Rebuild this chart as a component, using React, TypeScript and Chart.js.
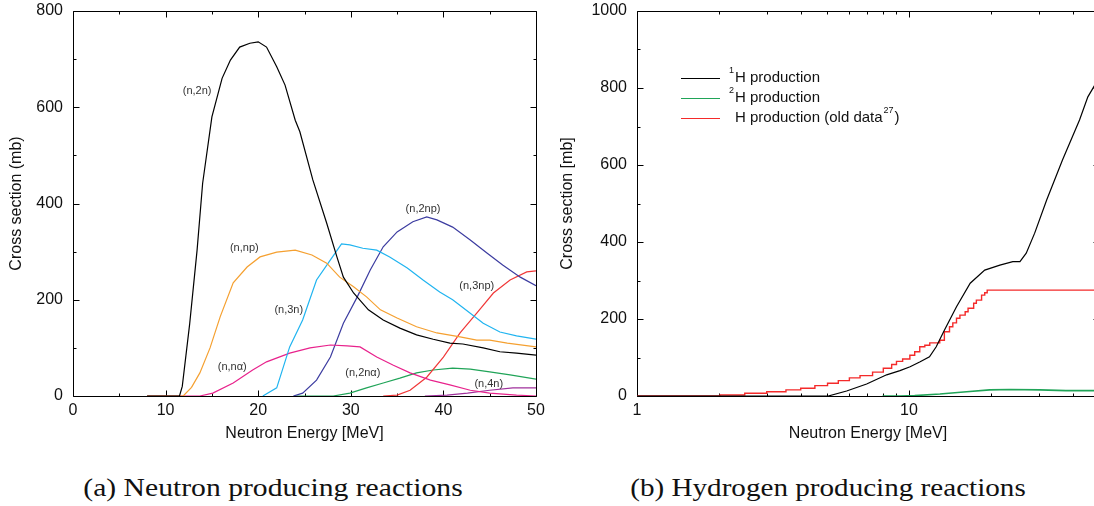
import React, { useEffect, useRef } from 'react';
import { Chart, registerables } from 'chart.js';
Chart.register(...registerables);

// ---------- Panel (a): neutron producing reactions ----------
const n2nE = [8, 11.5, 11.8, 12.6, 13.4, 14.0, 15.0, 16.1, 17.0, 18.0, 19.1, 20.0, 20.9, 22.0, 22.9, 24.0, 24.5, 25.9, 27.4, 28.5, 29.2, 30.3, 31.9, 33.5, 35.3, 37.1, 38.9, 40.7, 42.1, 44.3, 46.1, 47.9, 50];
const n2nXS = [0, 0, 20, 150, 303, 442, 580, 660, 698, 725, 733, 736, 725, 684, 646, 573, 549, 449, 359, 289, 247, 214, 179, 158, 141, 127, 118, 110, 108, 100, 92, 89, 85];

const nnpE = [8, 11.9, 12.8, 13.7, 14.8, 15.9, 17.3, 18.8, 20.2, 22.0, 24.0, 25.8, 27.4, 28.8, 30.3, 31.7, 33.2, 35.0, 37.1, 39.3, 41.8, 43.6, 45.0, 46.9, 50];
const nnpXS = [0, 0, 18, 48, 100, 165, 235, 268, 289, 299, 303, 293, 276, 247, 227, 206, 179, 162, 144, 131, 123, 116, 116, 110, 102];

const n3nE = [20.5, 22.0, 23.4, 24.8, 26.3, 27.8, 29.0, 29.9, 31.3, 32.8, 34.2, 36.1, 37.8, 39.6, 41.0, 42.9, 44.3, 46.1, 47.9, 50];
const n3nXS = [0, 17, 102, 158, 241, 283, 316, 314, 307, 303, 289, 266, 241, 216, 200, 172, 151, 133, 125, 118];

const n2npE = [23.8, 24.8, 26.3, 27.8, 29.2, 30.7, 32.1, 33.5, 35.0, 36.7, 38.2, 39.3, 41.0, 42.9, 44.7, 46.4, 48.3, 50];
const n2npXS = [0, 6, 33, 81, 151, 206, 262, 310, 341, 362, 372, 366, 351, 324, 297, 272, 247, 229];

const n3npE = [33.5, 35.0, 36.4, 38.2, 40.0, 41.8, 43.6, 45.4, 47.2, 49.0, 50];
const n3npXS = [0, 2, 12, 39, 81, 131, 172, 214, 241, 258, 260];

const nnaE = [8, 13.7, 15.1, 17.3, 19.4, 20.9, 23.4, 25.6, 27.8, 29.6, 31.0, 32.8, 34.6, 36.4, 38.6, 40.7, 42.9, 45.0, 47.9, 50];
const nnaXS = [0, 0, 6, 27, 54, 71, 89, 100, 106, 104, 102, 81, 64, 48, 33, 23, 12, 6, 2, 0];

const n2naE = [24, 28.1, 29.9, 31.7, 33.5, 35.3, 37.1, 38.9, 41.0, 42.9, 45.0, 47.2, 50];
const n2naXS = [0, 0, 6, 17, 27, 37, 48, 54, 58, 56, 50, 44, 35];

const n4nE = [38, 40.4, 42.6, 45.0, 47.5, 50];
const n4nXS = [0, 2, 6, 12, 17, 17];

const reactionNames = ['(n,2n)', '(n,np)', '(n,3n)', '(n,n\u03b1)', '(n,2np)', '(n,3np)', '(n,2n\u03b1)', '(n,4n)'];
const reactionColors = ['#000000', '#f5a030', '#20b4f0', '#e8228c', '#3c3ca0', '#f03838', '#20a458', '#a0309c'];
const labelE = [13.4, 18.5, 23.3, 17.2, 37.8, 43.6, 31.3, 44.9];
const labelXS = [634, 308, 179, 60, 388, 229, 48, 25];

const leftXMajor = [0, 10, 20, 30, 40, 50];
const leftXMinor = [5, 15, 25, 35, 45];
const leftYMajor = [0, 200, 400, 600, 800];
const leftYMinor = [100, 300, 500, 700];

// ---------- Panel (b): hydrogen producing reactions ----------
const h1E = [1, 5.05, 5.9, 6.99, 8.28, 9.27, 10.1, 11.0, 11.9, 12.6, 13.5, 14.96, 16.8, 19.0, 21.6, 24.1, 25.6, 27.0, 29.0, 32.1, 36.7, 42.4, 45.5, 48.3, 50];
const h1XS = [0, 0, 13, 31, 55, 66, 76, 89, 102, 128, 171, 232, 293, 327, 340, 349, 349, 371, 423, 509, 613, 717, 777, 808, 822];

const h2E = [8, 9.27, 10.5, 13.0, 16.3, 19.8, 23.5, 30.3, 37.8, 50];
const h2XS = [0, 0, 1, 5, 11, 16, 17, 16, 14, 14];

const hOldE = [1, 2.02, 2.49, 3.0, 3.53, 4.0, 4.51, 5.02, 5.5, 6.04, 6.61, 7.35, 8.05, 8.64, 9.0, 9.48, 10.08, 10.5, 10.96, 11.44, 11.93, 12.98, 13.5, 14.1, 14.5, 14.96, 15.4, 16.1, 16.5, 17.3, 17.7, 18.5, 19.0, 19.4, 50];
const hOldXS = [0, 2.6, 7, 11, 16, 20, 27, 33, 40, 47, 53, 62, 72, 82, 90, 96, 106, 115, 128, 132, 138, 145, 167, 180, 190, 202, 210, 219, 228, 241, 249, 262, 268, 275, 275];

const hColors = ['#000000', '#20a458', '#f42a2a'];

const rightXMajor = [1, 10];
const rightXMinor = [2, 3, 4, 5, 6, 7, 8, 9, 20, 30, 40];
const rightYMajor = [0, 200, 400, 600, 800, 1000];
const rightYMinor = [100, 300, 500, 700, 900];

const FONT = '"Liberation Sans", Arial, sans-serif';

const pts = (xs: number[], ys: number[]) => xs.map((x, i) => ({ x, y: ys[i] }));

function framePlugin(xMaj: number[], xMin: number[], yMaj: number[], yMin: number[]) {
  return {
    id: 'frameTicks',
    beforeDatasetsDraw(chart: any) {
      const { ctx, chartArea: a, scales } = chart;
      const xs = scales.x, ys = scales.y;
      const L = Math.round(a.left) + 0.5, R = Math.round(a.right) + 0.5;
      const T = Math.round(a.top) + 0.5, B = Math.round(a.bottom) + 0.5;
      ctx.save();
      ctx.strokeStyle = '#000';
      ctx.lineWidth = 1;
      ctx.beginPath();
      ctx.rect(L, T, R - L, B - T);
      const tick = (vals: number[], len: number) => {
        vals.forEach(v => {
          const px = Math.round(xs.getPixelForValue(v)) + 0.5;
          ctx.moveTo(px, B); ctx.lineTo(px, B - len);
          ctx.moveTo(px, T); ctx.lineTo(px, T + len);
        });
      };
      const ytick = (vals: number[], len: number) => {
        vals.forEach(v => {
          const py = Math.round(ys.getPixelForValue(v)) + 0.5;
          ctx.moveTo(L, py); ctx.lineTo(L + len, py);
          ctx.moveTo(R, py); ctx.lineTo(R - len, py);
        });
      };
      tick(xMaj, 6); tick(xMin, 3);
      ytick(yMaj, 6); ytick(yMin, 3);
      ctx.stroke();
      ctx.restore();
    },
  };
}

const reactionLabelPlugin = {
  id: 'reactionLabels',
  afterDatasetsDraw(chart: any) {
    const { ctx, scales } = chart;
    ctx.save();
    ctx.font = `11px ${FONT}`;
    ctx.fillStyle = '#333';
    ctx.textAlign = 'center';
    ctx.textBaseline = 'middle';
    reactionNames.forEach((t, i) => {
      ctx.fillText(t, scales.x.getPixelForValue(labelE[i]), scales.y.getPixelForValue(labelXS[i]));
    });
    ctx.restore();
  },
};

const hLegendPlugin = {
  id: 'hLegend',
  afterDatasetsDraw(chart: any) {
    const { ctx, chartArea: a } = chart;
    const x0 = a.left + 44, x1 = a.left + 83, tx = a.left + 98;
    const rows = [a.top + 67, a.top + 87, a.top + 107];
    ctx.save();
    ctx.lineWidth = 1.2;
    rows.forEach((y, i) => {
      ctx.strokeStyle = hColors[i];
      ctx.beginPath();
      ctx.moveTo(x0, y + 0.5);
      ctx.lineTo(x1, y + 0.5);
      ctx.stroke();
    });
    ctx.fillStyle = '#111';
    ctx.textBaseline = 'middle';
    ctx.textAlign = 'left';
    const big = `15px ${FONT}`;
    const small = `9px ${FONT}`;
    ctx.font = small; ctx.fillText('1', tx - 6, rows[0] - 7);
    ctx.font = big; ctx.fillText('H production', tx, rows[0]);
    ctx.font = small; ctx.fillText('2', tx - 6, rows[1] - 7);
    ctx.font = big; ctx.fillText('H production', tx, rows[1]);
    ctx.font = big;
    const s = 'H production (old data';
    ctx.fillText(s, tx, rows[2]);
    const w = ctx.measureText(s).width;
    ctx.font = small; ctx.fillText('27', tx + w + 1, rows[2] - 7);
    const w2 = ctx.measureText('27').width;
    ctx.font = big; ctx.fillText(')', tx + w + w2 + 2, rows[2]);
    ctx.restore();
  },
};

function baseScale(title: string, isX: boolean, size: number, pad: any) {
  return {
    grid: { display: false, drawTicks: false },
    border: { display: false },
    title: {
      display: true,
      text: title,
      color: '#111',
      font: { family: FONT, size: 16 },
      padding: pad,
    },
    afterFit: (s: any) => {
      if (isX) {
        s.height = size;
        s.paddingLeft = 0; s.paddingRight = 0;
      } else {
        s.width = size;
        s.paddingTop = 0; s.paddingBottom = 0;
      }
    },
  };
}

function LeftPanel() {
  const ref = useRef<HTMLCanvasElement>(null);
  useEffect(() => {
    const series = [
      [n2nE, n2nXS], [nnpE, nnpXS], [n3nE, n3nXS], [nnaE, nnaXS],
      [n2npE, n2npXS], [n3npE, n3npXS], [n2naE, n2naXS], [n4nE, n4nXS],
    ];
    const chart = new Chart(ref.current!, {
      type: 'line',
      data: {
        datasets: series.map(([xs, ys], i) => ({
          label: reactionNames[i],
          data: pts(xs, ys),
          borderColor: reactionColors[i],
          borderWidth: 1.2,
          pointRadius: 0,
          fill: false,
          tension: 0,
        })),
      },
      options: {
        animation: false,
        responsive: false,
        layout: { padding: { left: 0, top: 11, right: 16, bottom: 0 } },
        plugins: { legend: { display: false }, tooltip: { enabled: false } },
        scales: {
          x: {
            type: 'linear', min: 0, max: 50,
            ...baseScale('Neutron Energy [MeV]', true, 54, { top: 0, bottom: 7 }),
            ticks: { stepSize: 10, color: '#111', font: { family: FONT, size: 16 }, padding: 5, maxRotation: 0 },
          },
          y: {
            type: 'linear', min: 0, max: 800,
            ...baseScale('Cross section (mb)', false, 73, { top: 7, bottom: 0 }),
            ticks: { stepSize: 200, color: '#111', font: { family: FONT, size: 16 }, padding: 10 },
          },
        },
      } as any,
      plugins: [framePlugin(leftXMajor, leftXMinor, leftYMajor, leftYMinor), reactionLabelPlugin],
    });
    return () => chart.destroy();
  }, []);
  return <canvas ref={ref} width={552} height={450} style={{ position: 'absolute', left: 0, top: 0, width: 552, height: 450 }} />;
}

function RightPanel() {
  const ref = useRef<HTMLCanvasElement>(null);
  useEffect(() => {
    const chart = new Chart(ref.current!, {
      type: 'line',
      data: {
        datasets: [
          { label: '1H production', data: pts(h1E, h1XS), borderColor: hColors[0], borderWidth: 1.2, pointRadius: 0, fill: false },
          { label: '2H production', data: pts(h2E, h2XS), borderColor: hColors[1], borderWidth: 1.6, pointRadius: 0, fill: false },
          { label: 'H production (old data)', data: pts(hOldE, hOldXS), borderColor: hColors[2], borderWidth: 1.4, pointRadius: 0, fill: false, stepped: 'before' },
        ],
      },
      options: {
        animation: false,
        responsive: false,
        layout: { padding: { left: 0, top: 11, right: 21, bottom: 0 } },
        plugins: { legend: { display: false }, tooltip: { enabled: false } },
        scales: {
          x: {
            type: 'logarithmic', min: 1, max: 50,
            ...baseScale('Neutron Energy [MeV]', true, 54, { top: 0, bottom: 7 }),
            ticks: {
              color: '#111', font: { family: FONT, size: 16 }, padding: 5, maxRotation: 0, autoSkip: false,
              callback: (v: any) => (rightXMajor.includes(Number(v)) ? String(v) : ''),
            },
          },
          y: {
            type: 'linear', min: 0, max: 1000,
            ...baseScale('Cross section [mb]', false, 85, { top: 6, bottom: 0 }),
            ticks: { stepSize: 200, color: '#111', font: { family: FONT, size: 16 }, padding: 10, callback: (v: any) => String(v) },
          },
        },
      } as any,
      plugins: [framePlugin(rightXMajor, rightXMinor, rightYMajor, rightYMinor), hLegendPlugin],
    });
    return () => chart.destroy();
  }, []);
  return <canvas ref={ref} width={568} height={450} style={{ position: 'absolute', left: 552, top: 0, width: 568, height: 450 }} />;
}

const captionStyle: React.CSSProperties = {
  position: 'absolute',
  top: 473,
  height: 30,
  lineHeight: '30px',
  fontFamily: '"Liberation Serif", "Times New Roman", serif',
  fontSize: 26,
  color: '#111',
  whiteSpace: 'nowrap',
};

export default function App() {
  return (
    <div style={{ position: 'absolute', left: 0, top: 0, width: 1094, height: 506, overflow: 'hidden', background: '#fff' }}>
      <LeftPanel />
      <RightPanel />
      <div style={{ ...captionStyle, left: 273, transform: 'translateX(-50%) scaleX(1.14)' }}>(a) Neutron producing reactions</div>
      <div style={{ ...captionStyle, left: 828, transform: 'translateX(-50%) scaleX(1.12)' }}>(b) Hydrogen producing reactions</div>
    </div>
  );
}
